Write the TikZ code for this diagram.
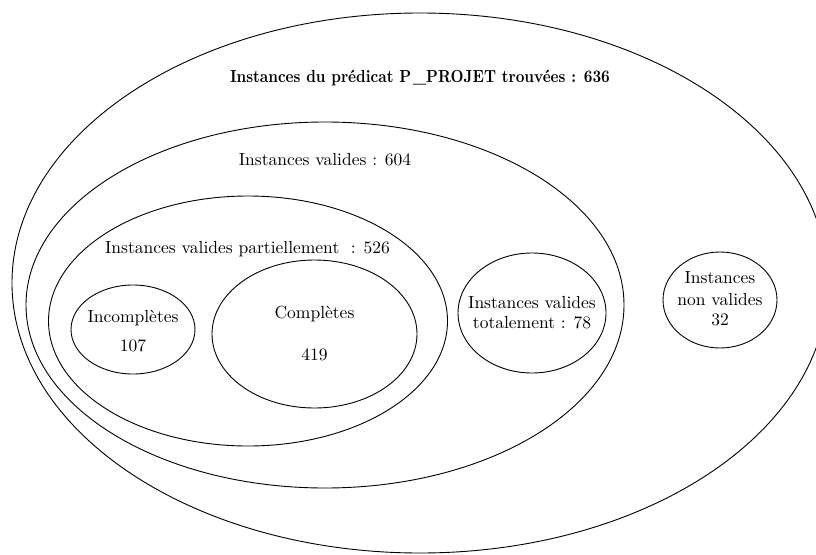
\documentclass[tikz,border=0pt]{standalone}
\usepackage{graphicx}
\usetikzlibrary{shapes.geometric}
% text is set in the 10pt design of Latin Modern, enlarged
\newcommand{\lbltext}[1]{\scalebox{1.75}{\fontsize{10}{12}\selectfont #1}}
\newcommand{\lbltitle}[1]{\scalebox{1.51}[1.75]{\fontsize{10}{12}\selectfont\bfseries #1}}
\begin{document}
\begin{tikzpicture}[x=1pt,y=-1pt,
  setbox/.style={draw=black,line width=0.9pt,ellipse,inner sep=0pt,fill=none},
  lbl/.style={inner sep=0pt,anchor=base}]
\useasboundingbox (0,0) rectangle (816,554);
\clip (0,0) rectangle (816,554);
% nested sets
\node[setbox,minimum width=816pt,minimum height=540pt] (all) at (420,283) {};
\node[setbox,minimum width=598pt,minimum height=366pt] (valid) at (325,305) {};
\node[setbox,minimum width=399pt,minimum height=250pt] (partial) at (248,321) {};
\node[setbox,minimum width=124pt,minimum height=89pt] (incomplete) at (133,329.5) {};
\node[setbox,minimum width=205pt,minimum height=148pt] (complete) at (314.5,334) {};
\node[setbox,minimum width=148pt,minimum height=120pt] (total) at (532,313) {};
\node[setbox,minimum width=114pt,minimum height=96pt] (invalid) at (720,300) {};
% labels
\node[lbl] (tall) at (420,82) {\lbltitle{Instances du prédicat P\kern0.12em\_PROJET trouvées : 636}};
\node[lbl] (tvalid) at (325,165) {\lbltext{Instances valides : 604}};
\node[lbl] (tpartial) at (247.5,253) {\lbltext{Instances valides partiellement\ \ : 526}};
\node[lbl] (tinc) at (133,322) {\lbltext{Incomplètes}};
\node[lbl] (ninc) at (133,351) {\lbltext{107}};
\node[lbl] (tcomp) at (314.5,318) {\lbltext{Complètes}};
\node[lbl] (ncomp) at (314.5,360) {\lbltext{419}};
\node[lbl] (ttot1) at (532,308) {\lbltext{Instances valides}};
\node[lbl] (ttot2) at (532,328) {\lbltext{totalement : 78}};
\node[lbl] (tinv1) at (720,283) {\lbltext{Instances}};
\node[lbl] (tinv2) at (720,305) {\lbltext{non valides}};
\node[lbl] (tinv3) at (720,325) {\lbltext{32}};
\end{tikzpicture}
\end{document}
